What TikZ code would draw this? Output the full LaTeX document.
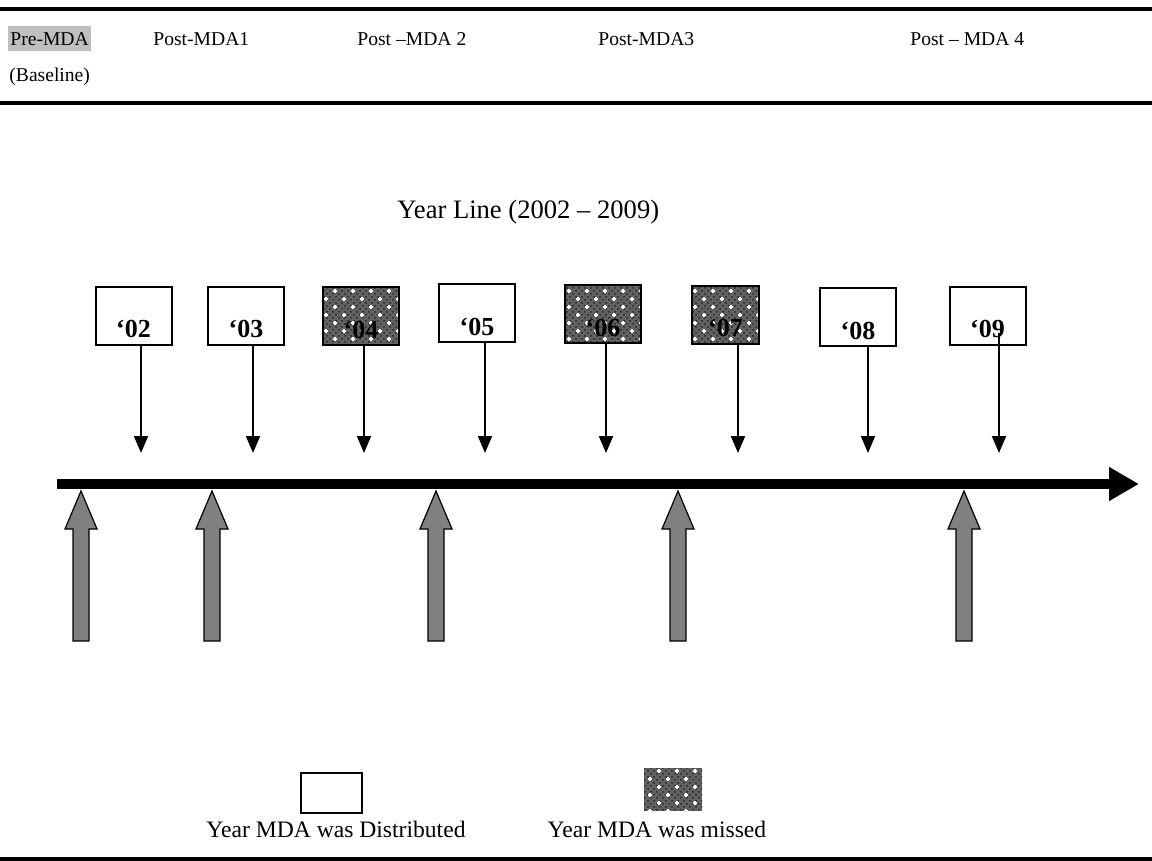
\documentclass[tikz,border=0pt]{standalone}
\usepackage{fontspec}
\setmainfont{Liberation Serif}
\usepackage{tikz}
\usetikzlibrary{arrows,arrows.meta,calc,positioning,patterns}
\definecolor{silver}{gray}{0.75}
\definecolor{arrowgray}{gray}{0.5}
\pgfdeclarepatternformonly{plusdots}{\pgfqpoint{-1pt}{-1pt}}{\pgfqpoint{9pt}{8pt}}{\pgfqpoint{9pt}{8pt}}{
  \pgfsetlinewidth{0.7pt}
  \pgfpathmoveto{\pgfqpoint{0pt}{1pt}}\pgfpathlineto{\pgfqpoint{2pt}{1pt}}
  \pgfpathmoveto{\pgfqpoint{1pt}{0pt}}\pgfpathlineto{\pgfqpoint{1pt}{2pt}}
  \pgfpathmoveto{\pgfqpoint{4.5pt}{5pt}}\pgfpathlineto{\pgfqpoint{6.5pt}{5pt}}
  \pgfpathmoveto{\pgfqpoint{5.5pt}{4pt}}\pgfpathlineto{\pgfqpoint{5.5pt}{6pt}}
  \pgfusepath{stroke}
}

\begin{document}
\begin{tikzpicture}[
    x=0.5pt, y=-0.5pt,
    rule/.style={line width=2pt},
    header/.style={anchor=west, inner sep=0, font=\fontsize{9.8}{11}\selectfont},
    yearbox/.style={draw, line width=1pt, minimum width=38pt, minimum height=29pt, inner sep=0},
    missbox/.style={yearbox, preaction={fill=black!62}, preaction={pattern=crosshatch dots, pattern color=black!85}, pattern=plusdots, pattern color=white},
    yeartxt/.style={anchor=base, inner sep=0, font=\fontsize{13}{15}\selectfont\bfseries},
    drop/.style={line width=1pt, -{Triangle[length=8.5pt,width=7pt]}},
    timeline/.style={line width=5pt, -{Triangle[length=15pt,width=16pt]}},
    mdaarrow/.style={draw, line width=0.6pt, fill=arrowgray},
    legtxt/.style={anchor=base, inner sep=0, font=\fontsize{11.8}{14}\selectfont}]
\useasboundingbox (0,0) rectangle (1152,861);

% header rows
\draw[rule] (0,9) -- (1152,9);
\node[header, fill=silver, minimum height=12.5pt, inner xsep=1pt] (pre) at (8,39) {Pre-MDA};
\node[header] (post1) at (153,39) {Post-MDA1};
\node[header] (post2) at (357,39) {Post –MDA 2};
\node[header] (post3) at (598,39) {Post-MDA3};
\node[header] (post4) at (910,39) {Post – MDA 4};
\node[header] (baseline) at (9,77) {(Baseline)};
\draw[rule] (0,103) -- (1152,103);

\node[anchor=west, inner sep=0, font=\fontsize{13.3}{16}\selectfont] (yearline) at (397,212) {Year Line (2002 – 2009)};

% year boxes
\node[yearbox] (y02) at (133.5,316) {};
\node[yearbox] (y03) at (246,316) {};
\node[missbox] (y04) at (361,316.5) {};
\node[yearbox] (y05) at (477,313.5) {};
\node[missbox] (y06) at (603,314) {};
\node[missbox, minimum width=33.5pt] (y07) at (725.5,315) {};
\node[yearbox] (y08) at (858,317.5) {};
\node[yearbox] (y09) at (987.5,316) {};
\foreach \n in {02,03,04,05,06,07,08,09}
  \node[yeartxt] (l\n) at ([yshift=4pt]y\n.south) {‘\n};

% drops to the year line
\foreach \n/\x in {02/141,03/253,04/364,05/485,06/606,07/738,08/868,09/999}
  \coordinate (t\n) at (\x,453);
\foreach \n in {02,03,04,05,06,07,08}
  \draw[drop] (t\n |- y\n.south) -- (t\n);
\coordinate (s09) at (999,333);
\draw[drop] (s09) -- (t09);

% time line
\coordinate (tlstart) at (57,484);
\coordinate (tlend) at (1139,484);
\draw[timeline] (tlstart) -- (tlend);

% MDA rounds
\foreach \i/\x in {1/81,2/212,3/436,4/678,5/964}{
  \coordinate (m\i) at (\x,491);
  \draw[mdaarrow] (m\i) -- ++(16,38) -- ++(-8,0) -- ++(0,112) -- ++(-16,0) -- ++(0,-112) -- ++(-8,0) -- cycle;
}

% legend
\node[yearbox, minimum width=30.5pt, minimum height=20pt] (legdist) at (331.5,793) {};
\node[legtxt] (legdisttxt) at (336,837) {Year MDA was Distributed};
\node[missbox, draw=none, minimum width=29pt, minimum height=21.5pt] (legmiss) at (673,789.5) {};
\node[legtxt] (legmisstxt) at (657,837) {Year MDA was missed};
\draw[rule] (0,859) -- (1152,859);

\end{tikzpicture}
\end{document}
